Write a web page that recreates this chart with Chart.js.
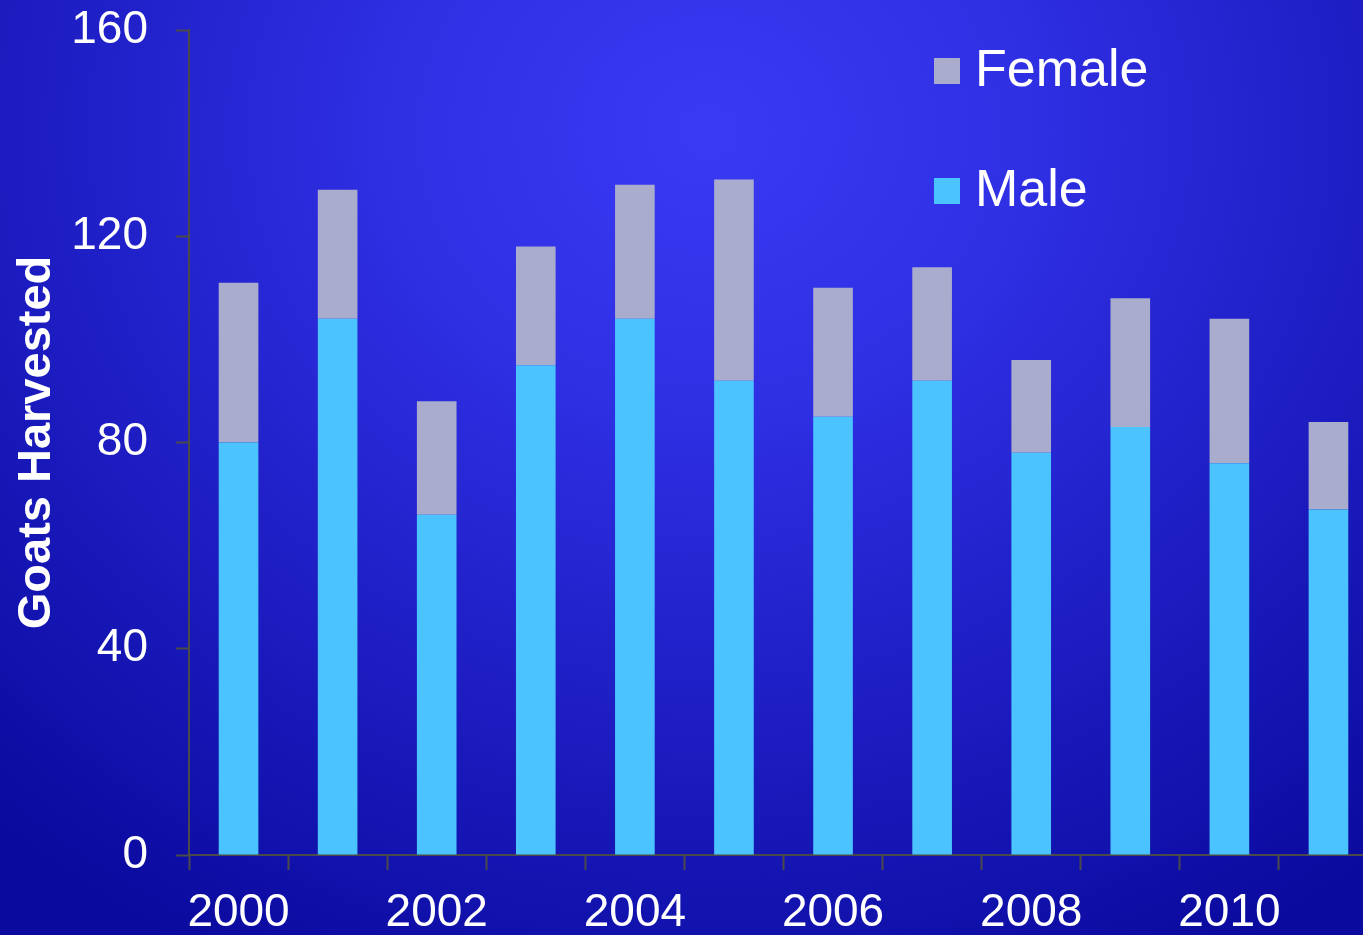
<!DOCTYPE html>
<html>
<head>
<meta charset="utf-8">
<script src="https://cdn.jsdelivr.net/npm/chart.js@4/dist/chart.umd.min.js"></script>
<style>
    html, body {
        margin: 0;
        padding: 0;
        width: 1363px;
        height: 935px;
        overflow: hidden;
        background: radial-gradient(ellipse 78% 100% at 52% 14%, #3a3af4 0%, #2f2fe4 30%, #1e1ec4 62%, #0a0a9e 100%);
    }
    #wrap { width: 1378px; height: 935px; }
</style>
</head>
<body>
<div id="wrap">
    <canvas id="chartGoats" width="1378" height="935"></canvas>
</div>
<script>
const years = ["2000","2001","2002","2003","2004","2005","2006","2007","2008","2009","2010","2011"];
const male = [80, 104, 66, 95, 104, 92, 85, 92, 78, 83, 76, 67];
const female = [31, 25, 22, 23, 26, 39, 25, 22, 18, 25, 28, 17];
const yTicks = [0, 40, 80, 120, 160];

const FONT = "'Liberation Sans', Arial, sans-serif";
const AXIS = "#4a4a4a";

// legend drawn in the plot, Female listed first
const sideLegend = {
    id: "sideLegend",
    afterDraw(chart) {
        const ctx = chart.ctx;
        const items = chart.data.datasets.slice().reverse();
        ctx.save();
        ctx.font = "52px " + FONT;
        ctx.textBaseline = "middle";
        ctx.textAlign = "left";
        items.forEach((ds, i) => {
            const y = 71 + i * 120;
            ctx.fillStyle = ds.backgroundColor;
            ctx.fillRect(934, y - 13, 26, 26);
            ctx.fillStyle = "#ffffff";
            ctx.fillText(ds.label, 975, y + 1);
        });
        ctx.restore();
    }
};

new Chart(document.getElementById("chartGoats"), {
    type: "bar",
    data: {
        labels: years,
        datasets: [
            {
                label: "Male",
                data: male,
                backgroundColor: "#4bc3ff",
                borderWidth: 0
            },
            {
                label: "Female",
                data: female,
                backgroundColor: "#aaacce",
                borderWidth: 0
            }
        ]
    },
    options: {
        responsive: false,
        animation: false,
        layout: { padding: { top: 30, right: 0, left: 0, bottom: 0 } },
        datasets: {
            bar: { barPercentage: 0.4, categoryPercentage: 1.0 }
        },
        plugins: {
            legend: { display: false },
            tooltip: { enabled: false }
        },
        scales: {
            x: {
                stacked: true,
                grid: {
                    display: true,
                    drawOnChartArea: false,
                    drawTicks: true,
                    tickLength: 15,
                    tickWidth: 2,
                    tickColor: AXIS,
                    offset: true
                },
                border: { display: true, color: AXIS, width: 2 },
                ticks: {
                    autoSkip: false,
                    maxRotation: 0,
                    minRotation: 0,
                    padding: 16,
                    color: "#ffffff",
                    font: { family: FONT, size: 46 },
                    callback(value, index) {
                        return index % 2 === 0 ? years[index] : "";
                    }
                },
                afterFit(scale) {
                    scale.height = 80;
                    scale.paddingLeft = 0;
                    scale.paddingRight = 0;
                }
            },
            y: {
                stacked: true,
                min: yTicks[0],
                max: yTicks[yTicks.length - 1],
                afterBuildTicks(scale) {
                    scale.ticks = yTicks.map(v => ({ value: v }));
                },
                grid: {
                    display: true,
                    drawOnChartArea: false,
                    drawTicks: true,
                    tickLength: 13,
                    tickWidth: 2,
                    tickColor: AXIS
                },
                border: { display: true, color: AXIS, width: 2 },
                ticks: {
                    padding: 28,
                    color: "#ffffff",
                    font: { family: FONT, size: 46 }
                },
                title: {
                    display: true,
                    text: "Goats Harvested",
                    color: "#ffffff",
                    font: { family: FONT, size: 47, weight: "bold" },
                    padding: { top: 9, bottom: 0 }
                },
                afterFit(scale) {
                    scale.width = 189;
                    scale.paddingTop = 0;
                    scale.paddingBottom = 0;
                }
            }
        }
    },
    plugins: [sideLegend]
});
</script>
</body>
</html>
